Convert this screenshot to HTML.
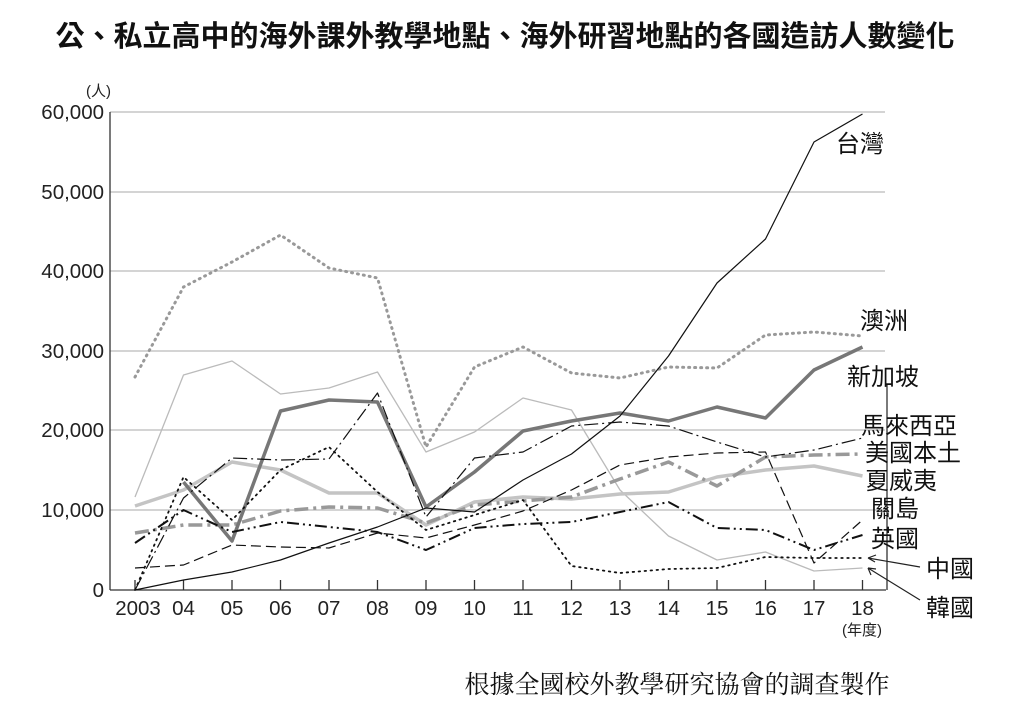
<!DOCTYPE html><html><head><meta charset="utf-8"><style>body{margin:0;background:#fff}svg text{font-family:"Liberation Sans","Noto Sans CJK TC",sans-serif}</style></head><body>
<svg width="1013" height="704" viewBox="0 0 1013 704" xmlns="http://www.w3.org/2000/svg">
<text x="505" y="46" text-anchor="middle" font-size="29" font-weight="bold" fill="#111">公、私立高中的海外課外教學地點、海外研習地點的各國造訪人數變化</text>
<text x="86" y="96" font-size="15" fill="#222">(人)</text>
<g stroke="#bbb" stroke-width="1.2">
<line x1="110" x2="885" y1="112" y2="112"/><line x1="110" x2="885" y1="192" y2="192"/><line x1="110" x2="885" y1="271" y2="271"/><line x1="110" x2="885" y1="351" y2="351"/><line x1="110" x2="885" y1="430" y2="430"/><line x1="110" x2="885" y1="510" y2="510"/></g>
<g font-size="20.5" fill="#222" text-anchor="end">
<text x="104" y="119">60,000</text><text x="104" y="199">50,000</text><text x="104" y="278">40,000</text><text x="104" y="358">30,000</text><text x="104" y="437">20,000</text><text x="104" y="517">10,000</text><text x="104" y="597">0</text></g>
<g stroke="#333" stroke-width="1.3"><line x1="110" y1="112" x2="110" y2="590"/><line x1="110" y1="590" x2="886" y2="590"/><line x1="887" y1="385" x2="887" y2="590"/>
<path d="M135 590v-10M183.5 590v-10M232 590v-10M280.5 590v-10M329 590v-10M377.5 590v-10M426 590v-10M474.5 590v-10M523 590v-10M571.5 590v-10M620 590v-10M668.5 590v-10M717 590v-10M765.5 590v-10M814 590v-10M862.5 590v-10"/></g>
<g font-size="20.5" fill="#222" text-anchor="middle">
<text x="138" y="615">2003</text><text x="183.5" y="615">04</text><text x="232" y="615">05</text><text x="280.5" y="615">06</text><text x="329" y="615">07</text><text x="377.5" y="615">08</text><text x="426" y="615">09</text><text x="474.5" y="615">10</text><text x="523" y="615">11</text><text x="571.5" y="615">12</text><text x="620" y="615">13</text><text x="668.5" y="615">14</text><text x="717" y="615">15</text><text x="765.5" y="615">16</text><text x="814" y="615">17</text><text x="862.5" y="615">18</text></g>
<text x="862" y="635" font-size="15" text-anchor="middle" fill="#222">(年度)</text>
<g fill="none" stroke-linejoin="round">
<polyline stroke="#bbb" stroke-width="1.3" points="135,497 183.5,375 232,361 280.5,394 329,388 377.5,372 426,452 474.5,432 523,398 571.5,410 620,490 668.5,536 717,560 765.5,552 814,571 862.5,568"/>
<polyline stroke="#999" stroke-width="3" stroke-dasharray="1 5" stroke-linecap="round" points="135,377 183.5,287 232,262 280.5,235 329,268 377.5,278 426,447 474.5,367 523,347 571.5,373 620,378 668.5,367 717,368 765.5,335 814,332 862.5,336"/>
<polyline stroke="#c4c4c4" stroke-width="3.5" points="135,506 183.5,490 232,462 280.5,470 329,493 377.5,493 426,525 474.5,502 523,497 571.5,499 620,494 668.5,492 717,477 765.5,470 814,466 862.5,476"/>
<polyline stroke="#999" stroke-width="3.5" stroke-dasharray="14 5 3 5" points="135,533 183.5,525 232,525 280.5,511 329,507 377.5,508 426,523 474.5,505 523,501 571.5,497 620,479 668.5,462 717,486 765.5,457 814,455 862.5,454"/>
<polyline stroke="#777" stroke-width="3.5" points="183.5,482 232,541 280.5,411 329,400 377.5,402 426,507 474.5,472 523,431 571.5,421 620,413 668.5,421 717,407 765.5,418 814,370 862.5,347"/>
<polyline stroke="#111" stroke-width="1.2" stroke-dasharray="10 5" points="135,568 183.5,565 232,545 280.5,547 329,548 377.5,533 426,538 474.5,525 523,511 571.5,490 620,465 668.5,457 717,453 765.5,452 814,563 862.5,520"/>
<polyline stroke="#111" stroke-width="1.2" stroke-dasharray="14 4 2 4" points="135,590 183.5,498 232,458 280.5,460 329,459 377.5,393 426,517 474.5,458 523,452 571.5,426 620,422 668.5,426 717,442 765.5,457 814,450 862.5,438"/>
<polyline stroke="#111" stroke-width="2" stroke-dasharray="12 4 2 4 2 4" points="135,543 183.5,510 232,532 280.5,522 329,527 377.5,532 426,550 474.5,528 523,524 571.5,522 620,512 668.5,502 717,528 765.5,530 814,550 862.5,535"/>
<polyline stroke="#111" stroke-width="1.8" stroke-dasharray="1.5 4.5" stroke-linecap="round" points="135,590 183.5,477 232,520 280.5,470 329,447 377.5,492 426,530 474.5,515 523,500 571.5,566 620,573 668.5,569 717,568 765.5,557 814,558 862.5,558"/>
<polyline stroke="#111" stroke-width="1.2" points="135,590 183.5,580 232,572 280.5,560 329,543 377.5,527 426,508 474.5,512 523,480 571.5,454 620,416 668.5,356 717,283 765.5,239 814,142 862.5,114"/>
</g>
<g stroke="#222" stroke-width="1.2" fill="none"><path d="M868 558L920 567M868 568L920 600M868 558l8 -3M868 558l7 4M868 568l8 1M868 568l3 7"/></g>
<g font-size="24" fill="#111">
<text x="836" y="152">台灣</text><text x="860" y="329">澳洲</text><text x="847" y="385">新加坡</text><text x="861" y="434">馬來西亞</text><text x="865" y="461">美國本土</text><text x="865" y="489">夏威夷</text><text x="871" y="517">關島</text><text x="871" y="547">英國</text><text x="926" y="577">中國</text><text x="926" y="616">韓國</text></g>
<text x="677" y="693" text-anchor="middle" font-size="25" fill="#111" style="font-family:'Liberation Serif','Noto Serif CJK SC',serif">根據全國校外教學研究協會的調查製作</text>
</svg></body></html>
